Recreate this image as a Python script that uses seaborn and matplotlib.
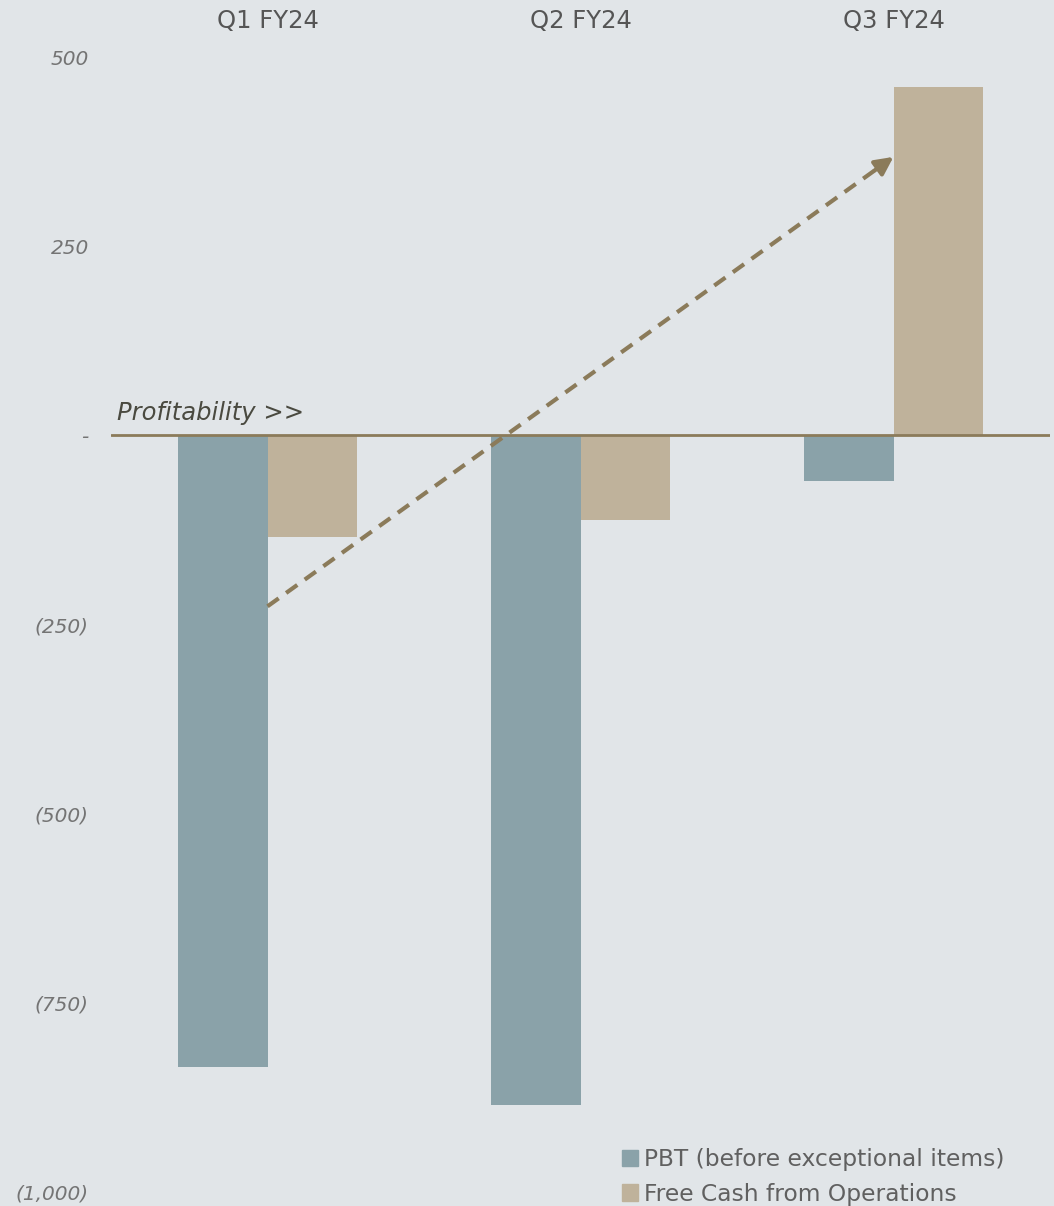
import matplotlib
matplotlib.use("Agg")
import matplotlib.pyplot as plt
import matplotlib.patches as mpatches
import seaborn as sns
import pandas as pd
from matplotlib.ticker import FuncFormatter

# Quarterly figures
quarters = ["Q1 FY24", "Q2 FY24", "Q3 FY24"]
pbt = [-835, -885, -60]
free_cash = [-134, -112, 460]
series_names = ["PBT (before exceptional items)", "Free Cash from Operations"]
y_ticks = [500, 250, 0, -250, -500, -750, -1000]

# Trend arrow (from Q1 to Q3)
trend_start = (0, -226)
trend_end = (2, 368)

BG = "#e1e5e8"
C_PBT = "#8aa2a9"
C_FCF = "#bfb29b"
C_LINE = "#8b7b5a"

df = pd.DataFrame({
    "quarter": quarters * 2,
    "value": pbt + free_cash,
    "series": [series_names[0]] * 3 + [series_names[1]] * 3,
})

sns.set_theme(style="white")
plt.rcParams["font.family"] = ["DejaVu Sans"]

fig = plt.figure(figsize=(10.54, 12.06), dpi=100, facecolor=BG)
ax = fig.add_axes([111 / 1054, 1 - 1192 / 1206, (1050 - 111) / 1054, (1192 - 57) / 1206])
ax.set_facecolor(BG)

sns.barplot(data=df, x="quarter", y="value", hue="series", order=quarters,
            hue_order=series_names, palette=[C_PBT, C_FCF], width=0.57,
            saturation=1, ax=ax, legend=False, linewidth=0)

ax.set_xlim(-0.5, 2.5)
ax.set_ylim(-1000, 500)
ax.set_yticks(y_ticks)


def fmt(v, pos):
    if v == 0:
        return "-"
    if v < 0:
        return "({:,.0f})".format(-v)
    return "{:,.0f}".format(v)


ax.yaxis.set_major_formatter(FuncFormatter(fmt))
ax.tick_params(axis="y", length=0, pad=16, labelsize=14.5, labelcolor="#747474")
for t in ax.get_yticklabels():
    t.set_fontstyle("italic")

ax.xaxis.tick_top()
ax.tick_params(axis="x", length=0, pad=17, labelsize=17.5, labelcolor="#555555")
ax.set_xlabel("")
ax.set_ylabel("")
for s in ax.spines.values():
    s.set_visible(False)

ax.axhline(0, color=C_LINE, lw=2, zorder=3)
ax.text(-0.48, 14, "Profitability >>", fontsize=17.5, style="italic",
        color="#4a4a40", ha="left", va="bottom")

# dashed trend line with a solid head
dx = 0.03
slope = (trend_end[1] - trend_start[1]) / (trend_end[0] - trend_start[0])
ax.plot([trend_start[0], trend_end[0] - dx], [trend_start[1], trend_end[1] - dx * slope],
        color=C_LINE, lw=3, ls=(0, (3.3, 2.2)), zorder=4)
ax.annotate("", xy=trend_end, xytext=(trend_end[0] - 2 * dx, trend_end[1] - 2 * dx * slope),
            arrowprops=dict(arrowstyle="-|>,head_length=0.9,head_width=0.45", color=C_LINE, lw=3,
                            shrinkA=0, shrinkB=0), zorder=5)

handles = [mpatches.Patch(color=C_PBT, label=series_names[0]),
           mpatches.Patch(color=C_FCF, label=series_names[1])]
fig.legend(handles=handles, loc="lower left", bbox_to_anchor=(601 / 1054, -0.017),
           frameon=False, fontsize=16.8, handlelength=0.7, handleheight=0.7,
           handletextpad=0.25, labelspacing=0.5, labelcolor="#606060")

fig.savefig("out.png", dpi=100, facecolor=BG)
